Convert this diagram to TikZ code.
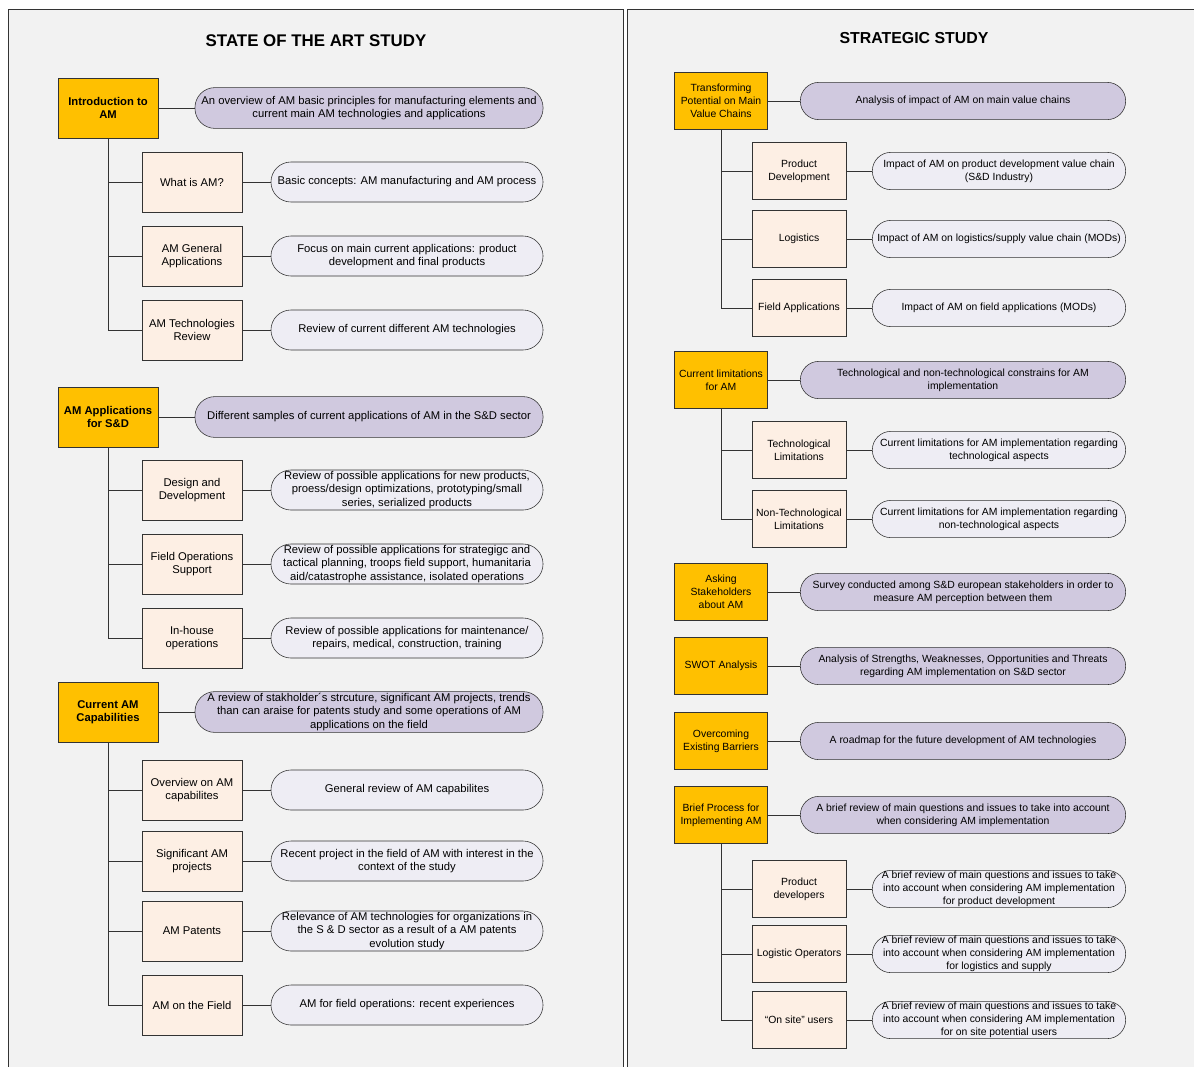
\documentclass[tikz,border=0pt]{standalone}
\usepackage{fontspec}
\setmainfont{Liberation Sans}
\usetikzlibrary{positioning}

\definecolor{panelgray}{HTML}{F2F2F2}
\definecolor{mainorange}{HTML}{FFC000}
\definecolor{mainlilac}{HTML}{D0C9DF}
\definecolor{subpeach}{HTML}{FDEFE4}
\definecolor{sublilac}{HTML}{EEEDF4}
\definecolor{edgegray}{HTML}{333333}

\begin{document}
\begin{tikzpicture}[
        x=0.025cm, y=-0.025cm,
        panel/.style={draw=edgegray, fill=panelgray, line width=0.7pt},
        heading/.style={font=\fontsize{12}{14}\selectfont\bfseries},
        mainbox/.style={draw=edgegray, fill=mainorange, minimum width=2.5cm, minimum height=1.5cm, inner sep=1pt, align=center, font=\fontsize{8}{9.6}\selectfont\bfseries},
        subbox/.style={draw=edgegray, fill=subpeach, minimum width=2.5cm, minimum height=1.5cm, inner sep=1pt, align=center, font=\fontsize{8}{9.6}\selectfont},
        mainpill/.style={draw=edgegray, fill=mainlilac, rounded corners=0.5cm, minimum width=8.7cm, minimum height=1.02cm, inner sep=0pt, align=center, font=\fontsize{8}{9.6}\selectfont},
        subpill/.style={draw=edgegray, fill=sublilac, rounded corners=0.5cm, minimum width=6.8cm, minimum height=1cm, inner sep=0pt, align=center, font=\fontsize{8}{9.6}\selectfont},
        rmainbox/.style={mainbox, minimum width=2.33cm, minimum height=1.42cm, font=\fontsize{7.4}{9.2}\selectfont},
        rsubbox/.style={subbox, minimum width=2.35cm, minimum height=1.42cm, font=\fontsize{7.4}{9.2}\selectfont},
        rmainpill/.style={mainpill, rounded corners=0.46cm, minimum width=8.13cm, minimum height=0.93cm, font=\fontsize{7.4}{9.2}\selectfont},
        rsubpill/.style={subpill, rounded corners=0.46cm, minimum width=6.33cm, minimum height=0.93cm, font=\fontsize{7.4}{9.2}\selectfont},
        link/.style={draw=edgegray, line width=0.7pt}
    ]
        \useasboundingbox (0,0) rectangle (1194,1066);
        \draw[panel] (8,9) rectangle (623,1080);
        \draw[panel] (627,9) rectangle (1205,1080);

        \node[heading] (artTitle) at (316,41) {STATE OF THE ART STUDY};
        \node[heading, font=\fontsize{11.3}{13}\selectfont\bfseries] (stratTitle) at (914,38) {STRATEGIC STUDY};

        % state of the art: introduction
        \node[mainbox] (intro) at (108,108) {Introduction to\\AM};
        \node[mainpill] (introDesc) at (369,108) {An overview of AM basic principles for manufacturing elements and\\current main AM technologies and applications};
        \node[subbox] (whatAM) at (192,182) {What is AM?};
        \node[subpill] (whatAMDesc) at (407,182) {Basic concepts: AM manufacturing and AM process};
        \node[subbox] (genApps) at (192,256) {AM General\\Applications};
        \node[subpill] (genAppsDesc) at (407,256) {Focus on main current applications: product\\development and final products};
        \node[subbox] (techRev) at (192,330) {AM Technologies\\Review};
        \node[subpill] (techRevDesc) at (407,330) {Review of current different AM technologies};

        % state of the art: applications
        \node[mainbox] (sdApps) at (108,417) {AM Applications\\for S\&D};
        \node[mainpill] (sdAppsDesc) at (369,417) {Different samples of current applications of AM in the S\&D sector};
        \node[subbox] (design) at (192,490) {Design and\\Development};
        \node[subpill] (designDesc) at (407,490) {Review of possible applications for new products,\\proess/design optimizations, prototyping/small\\series, serialized products};
        \node[subbox] (fieldOps) at (192,564) {Field Operations\\Support};
        \node[subpill] (fieldOpsDesc) at (407,564) {Review of possible applications for strategigc and\\tactical planning, troops field support, humanitaria\\aid/catastrophe assistance, isolated operations};
        \node[subbox] (inHouse) at (192,638) {In-house\\operations};
        \node[subpill] (inHouseDesc) at (407,638) {Review of possible applications for maintenance/\\repairs, medical, construction, training};

        % state of the art: capabilities
        \node[mainbox] (capab) at (108,712) {Current AM\\Capabilities};
        \node[mainpill] (capabDesc) at (369,712) {A review of stakholder´s strcuture, significant AM projects, trends\\than can araise for patents study and some operations of AM\\applications on the field};
        \node[subbox] (overview) at (192,790) {Overview on AM\\capabilites};
        \node[subpill] (overviewDesc) at (407,790) {General review of AM capabilites};
        \node[subbox] (projects) at (192,861) {Significant AM\\projects};
        \node[subpill] (projectsDesc) at (407,861) {Recent project in the field of AM with interest in the\\context of the study};
        \node[subbox] (patents) at (192,931) {AM Patents};
        \node[subpill] (patentsDesc) at (407,931) {Relevance of AM technologies for organizations in\\the S \& D sector as a result of a AM patents\\evolution study};
        \node[subbox] (onField) at (192,1005) {AM on the Field};
        \node[subpill] (onFieldDesc) at (407,1005) {AM for field operations: recent experiences};

        % strategic: value chains
        \node[rmainbox] (valueCh) at (721,101) {Transforming\\Potential on Main\\Value Chains};
        \node[rmainpill] (valueChDesc) at (963,101) {Analysis of impact of AM on main value chains};
        \node[rsubbox] (prodDev) at (799,171) {Product\\Development};
        \node[rsubpill] (prodDevDesc) at (999,171) {Impact of AM on product development value chain\\(S\&D Industry)};
        \node[rsubbox] (logist) at (799,239) {Logistics};
        \node[rsubpill] (logistDesc) at (999,239) {Impact of AM on logistics/supply value chain (MODs)};
        \node[rsubbox] (fieldApps) at (799,308) {Field Applications};
        \node[rsubpill] (fieldAppsDesc) at (999,308) {Impact of AM on field applications (MODs)};

        % strategic: limitations
        \node[rmainbox] (limits) at (721,380) {Current limitations\\for AM};
        \node[rmainpill] (limitsDesc) at (963,380) {Technological and non-technological constrains for AM\\implementation};
        \node[rsubbox] (techLim) at (799,450) {Technological\\Limitations};
        \node[rsubpill] (techLimDesc) at (999,450) {Current limitations for AM implementation regarding\\technological aspects};
        \node[rsubbox] (nonTechLim) at (799,519) {Non-Technological\\Limitations};
        \node[rsubpill] (nonTechLimDesc) at (999,519) {Current limitations for AM implementation regarding\\non-technological aspects};

        % strategic: single steps
        \node[rmainbox] (survey) at (721,592) {Asking\\Stakeholders\\about AM};
        \node[rmainpill] (surveyDesc) at (963,592) {Survey conducted among S\&D european stakeholders in order to\\measure AM perception between them};
        \node[rmainbox] (swot) at (721,666) {SWOT Analysis};
        \node[rmainpill] (swotDesc) at (963,666) {Analysis of Strengths, Weaknesses, Opportunities and Threats\\regarding AM implementation on S\&D sector};
        \node[rmainbox] (barriers) at (721,741) {Overcoming\\Existing Barriers};
        \node[rmainpill] (barriersDesc) at (963,741) {A roadmap for the future development of AM technologies};

        % strategic: brief process
        \node[rmainbox] (process) at (721,815) {Brief Process for\\Implementing AM};
        \node[rmainpill] (processDesc) at (963,815) {A brief review of main questions and issues to take into account\\when considering AM implementation};
        \node[rsubbox] (prodUsers) at (799,889) {Product\\developers};
        \node[rsubpill] (prodUsersDesc) at (999,889) {A brief review of main questions and issues to take\\into account when considering AM implementation\\for product development};
        \node[rsubbox] (logUsers) at (799,954) {Logistic Operators};
        \node[rsubpill] (logUsersDesc) at (999,954) {A brief review of main questions and issues to take\\into account when considering AM implementation\\for logistics and supply};
        \node[rsubbox] (siteUsers) at (799,1020) {``On site'' users};
        \node[rsubpill] (siteUsersDesc) at (999,1020) {A brief review of main questions and issues to take\\into account when considering AM implementation\\for on site potential users};

        % box to description links
        \draw[link] (intro) -- (introDesc);
        \draw[link] (whatAM) -- (whatAMDesc);
        \draw[link] (genApps) -- (genAppsDesc);
        \draw[link] (techRev) -- (techRevDesc);
        \draw[link] (sdApps) -- (sdAppsDesc);
        \draw[link] (design) -- (designDesc);
        \draw[link] (fieldOps) -- (fieldOpsDesc);
        \draw[link] (inHouse) -- (inHouseDesc);
        \draw[link] (capab) -- (capabDesc);
        \draw[link] (overview) -- (overviewDesc);
        \draw[link] (projects) -- (projectsDesc);
        \draw[link] (patents) -- (patentsDesc);
        \draw[link] (onField) -- (onFieldDesc);
        \draw[link] (valueCh) -- (valueChDesc);
        \draw[link] (prodDev) -- (prodDevDesc);
        \draw[link] (logist) -- (logistDesc);
        \draw[link] (fieldApps) -- (fieldAppsDesc);
        \draw[link] (limits) -- (limitsDesc);
        \draw[link] (techLim) -- (techLimDesc);
        \draw[link] (nonTechLim) -- (nonTechLimDesc);
        \draw[link] (survey) -- (surveyDesc);
        \draw[link] (swot) -- (swotDesc);
        \draw[link] (barriers) -- (barriersDesc);
        \draw[link] (process) -- (processDesc);
        \draw[link] (prodUsers) -- (prodUsersDesc);
        \draw[link] (logUsers) -- (logUsersDesc);
        \draw[link] (siteUsers) -- (siteUsersDesc);

        % tree links
        \draw[link] (intro.south) |- (whatAM.west);
        \draw[link] (intro.south) |- (genApps.west);
        \draw[link] (intro.south) |- (techRev.west);
        \draw[link] (sdApps.south) |- (design.west);
        \draw[link] (sdApps.south) |- (fieldOps.west);
        \draw[link] (sdApps.south) |- (inHouse.west);
        \draw[link] (capab.south) |- (overview.west);
        \draw[link] (capab.south) |- (projects.west);
        \draw[link] (capab.south) |- (patents.west);
        \draw[link] (capab.south) |- (onField.west);
        \draw[link] (valueCh.south) |- (prodDev.west);
        \draw[link] (valueCh.south) |- (logist.west);
        \draw[link] (valueCh.south) |- (fieldApps.west);
        \draw[link] (limits.south) |- (techLim.west);
        \draw[link] (limits.south) |- (nonTechLim.west);
        \draw[link] (process.south) |- (prodUsers.west);
        \draw[link] (process.south) |- (logUsers.west);
        \draw[link] (process.south) |- (siteUsers.west);
\end{tikzpicture}
\end{document}
